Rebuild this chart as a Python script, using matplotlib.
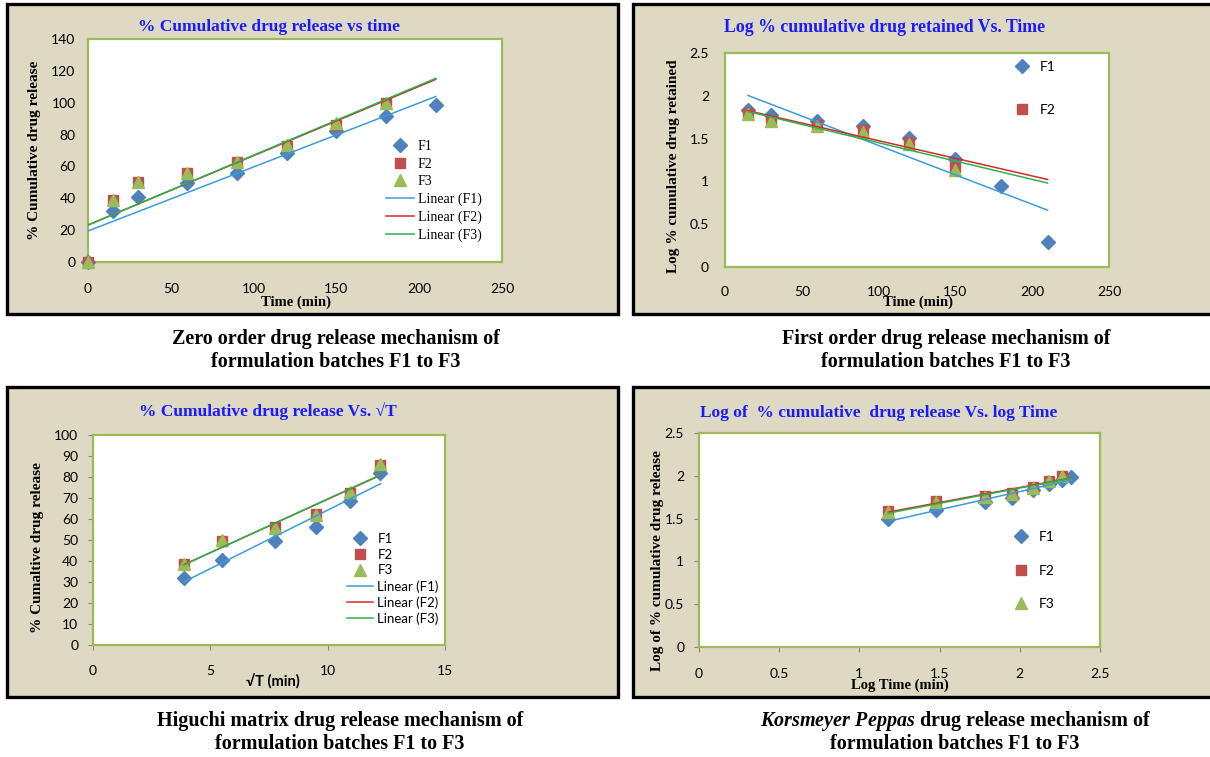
import numpy as np
import matplotlib
matplotlib.use("Agg")
import matplotlib.pyplot as plt
from matplotlib.patches import Rectangle
from matplotlib.lines import Line2D
from matplotlib.ticker import FuncFormatter

plt.rcParams['mathtext.fontset'] = 'custom'
plt.rcParams['mathtext.it'] = 'Liberation Serif:italic:bold'
plt.rcParams['mathtext.rm'] = 'Liberation Serif:bold'

##### dados #####
# ordem zero: % liberado vs tempo
time_min = [0, 15, 30, 60, 90, 120, 150, 180, 210]
zero_f1 = [0, 32, 41, 49.5, 56, 68.5, 82, 91.5, 98.5]
zero_f2 = [0, 39, 50, 56, 62.5, 73, 86, 100]
zero_f3 = [0, 39, 50, 56, 63, 73.5, 87, 100]

# primeira ordem: log % retido vs tempo
ret_time = [15, 30, 60, 90, 120, 150, 180, 210]
ret_f1 = [1.83, 1.78, 1.71, 1.65, 1.51, 1.26, 0.95, 0.29]
ret_f2 = [1.80, 1.72, 1.66, 1.60, 1.46, 1.17]
ret_f3 = [1.79, 1.70, 1.65, 1.58, 1.44, 1.13]

# Higuchi: % liberado vs raiz do tempo
sqrt_t = [3.87, 5.48, 7.75, 9.49, 10.95, 12.25]
hig_f1 = [32, 40.5, 49.5, 56, 68.5, 82]
hig_f2 = [38.5, 49.5, 56, 62.5, 72.5, 85.5]
hig_f3 = [38.5, 50, 55.5, 62, 73, 86]

# Korsmeyer-Peppas: log % liberado vs log tempo
log_t = [1.18, 1.48, 1.78, 1.95, 2.08, 2.18, 2.26, 2.32]
kp_f1 = [1.50, 1.60, 1.69, 1.74, 1.83, 1.90, 1.95, 1.99]
kp_f2 = [1.59, 1.70, 1.76, 1.80, 1.87, 1.94, 2.00]
kp_f3 = [1.58, 1.69, 1.75, 1.79, 1.86, 1.94, 2.00]

series_names = ['F1', 'F2', 'F3']

##### estilo #####
W, H = 1210, 757
BEIGE = '#DDD9C3'
GREEN_BORDER = '#9BBB59'
TITLE_BLUE = '#1a1aff'
MARK_COL = ['#4F81BD', '#C0504D', '#9BBB59']
MARK_SHAPE = ['D', 's', '^']
MARK_SIZE = [7, 7.5, 8]
LINE_COL = ['#3C9BDA', '#D42A2A', '#2BB24C']
SERIF = 'Liberation Serif'
SANS = 'Lato'

fig = plt.figure(figsize=(W / 100, H / 100), dpi=100)


def fx(x):
    return x / W


def fy(y):
    return 1 - y / H


def moldura(x0, y0, x1, y1):
    fig.patches.append(Rectangle((fx(x0), fy(y1)), (x1 - x0) / W, (y1 - y0) / H,
                                 transform=fig.transFigure, facecolor=BEIGE,
                                 edgecolor='black', lw=2.4, zorder=-5))


def eixo(x0, y0, x1, y1):
    ax = fig.add_axes([fx(x0), fy(y1), (x1 - x0) / W, (y1 - y0) / H])
    ax.set_facecolor('white')
    for s in ax.spines.values():
        s.set_color(GREEN_BORDER)
        s.set_linewidth(1.6)
    return ax


def pontos(ax, xs, ys_list):
    for i, ys in enumerate(ys_list):
        ax.plot(xs[:len(ys)], ys, linestyle='none', marker=MARK_SHAPE[i],
                ms=MARK_SIZE[i], color=MARK_COL[i], mec=MARK_COL[i], zorder=3,
                clip_on=False)


def tendencia(ax, xs, ys_list, x_range):
    for i, ys in enumerate(ys_list):
        k, b = np.polyfit(xs[:len(ys)], ys, 1)
        xx = np.array(x_range)
        ax.plot(xx, k * xx + b, color=LINE_COL[i], lw=1.1, zorder=4)


def legenda(ax, x, y, n_lin, spacing, font, size=10):
    h = []
    for i in range(3):
        h.append(Line2D([], [], linestyle='none', marker=MARK_SHAPE[i],
                        ms=MARK_SIZE[i], color=MARK_COL[i]))
    lab = list(series_names)
    for i in range(n_lin):
        h.append(Line2D([], [], color=LINE_COL[i], lw=1.1))
        lab.append('Linear (%s)' % series_names[i])
    leg = ax.legend(h, lab, loc='upper left', bbox_to_anchor=(fx(x), fy(y)),
                    bbox_transform=fig.transFigure, frameon=False,
                    borderpad=0, borderaxespad=0, handlelength=2.0,
                    handletextpad=0.3, labelspacing=spacing,
                    prop={'family': font, 'size': size})
    return leg


fmt = FuncFormatter(lambda v, p: '%g' % v)


def titulo(x, y, txt, size=12.5):
    fig.text(fx(x), fy(y), txt, ha='center', va='center', color=TITLE_BLUE,
             family=SERIF, weight='bold', fontsize=size)


def rotulo_y(x, y, txt):
    fig.text(fx(x), fy(y), txt, ha='center', va='center', rotation=90,
             family=SERIF, weight='bold', fontsize=11)


def rotulo_x(x, y, txt, font=SERIF):
    fig.text(fx(x), fy(y), txt, ha='center', va='center',
             family=font, weight='bold', fontsize=10.5)


def legenda_fig(x, y, txt):
    fig.text(fx(x), fy(y), txt, ha='center', va='center',
             family=SERIF, weight='bold', fontsize=14.5)


#####################################
#           ordem zero              #
#####################################
moldura(7, 4, 618, 314)
ax1 = eixo(88, 39, 502, 262)
pontos(ax1, time_min, [zero_f1, zero_f2, zero_f3])
tendencia(ax1, time_min, [zero_f1, zero_f2, zero_f3], [0, 210])
ax1.set_xlim(0, 250)
ax1.set_ylim(0, 140)
ax1.set_xticks(range(0, 251, 50))
ax1.set_yticks(range(0, 141, 20))
ax1.tick_params(axis='x', length=0, pad=15, labelsize=10)
ax1.tick_params(axis='y', length=0, pad=9, labelsize=10)
for t in ax1.get_xticklabels() + ax1.get_yticklabels():
    t.set_family(SANS)
legenda(ax1, 386, 140, 3, 0.33, SERIF)
titulo(269, 27, '% Cumulative drug release vs time')
rotulo_y(35, 150, '% Cumulative drug release')
rotulo_x(296, 302, 'Time (min)')

#####################################
#          primeira ordem           #
#####################################
moldura(633, 4, 1216, 314)
ax2 = eixo(725, 53, 1109, 267)
pontos(ax2, ret_time, [ret_f1, ret_f2, ret_f3])
tendencia(ax2, ret_time, [ret_f1, ret_f2, ret_f3], [15, 210])
ax2.set_xlim(0, 250)
ax2.set_ylim(0, 2.5)
ax2.set_xticks(range(0, 251, 50))
ax2.set_yticks(np.arange(0, 2.51, 0.5))
ax2.yaxis.set_major_formatter(fmt)
ax2.tick_params(axis='x', length=0, pad=14, labelsize=10)
ax2.tick_params(axis='y', length=0, pad=11.5, labelsize=10)
for t in ax2.get_xticklabels() + ax2.get_yticklabels():
    t.set_family(SANS)
# caixa da legenda corta o F3
h2 = [Line2D([], [], linestyle='none', marker=MARK_SHAPE[i], ms=MARK_SIZE[i],
             color=MARK_COL[i]) for i in range(2)]
ax2.legend(h2, series_names[:2], loc='upper left', bbox_to_anchor=(fx(1008), fy(61)),
           bbox_transform=fig.transFigure, frameon=False, borderpad=0,
           borderaxespad=0, handlelength=2.0, handletextpad=0.3,
           labelspacing=2.25, prop={'family': SANS, 'size': 10})
titulo(885, 27, 'Log % cumulative drug retained Vs. Time', size=12.8)
rotulo_y(673, 166, 'Log % cumulative drug retained')
rotulo_x(918, 302, 'Time (min)')

#####################################
#             Higuchi               #
#####################################
moldura(7, 387, 618, 697)
ax3 = eixo(93, 435, 445, 645)
pontos(ax3, sqrt_t, [hig_f1, hig_f2, hig_f3])
tendencia(ax3, sqrt_t, [hig_f1, hig_f2, hig_f3], [sqrt_t[0], sqrt_t[-1]])
ax3.set_xlim(0, 15)
ax3.set_ylim(0, 100)
ax3.set_xticks([0, 5, 10, 15])
ax3.set_yticks(range(0, 101, 10))
ax3.tick_params(axis='x', direction='out', length=3.6, color='#868686', pad=11, labelsize=10)
ax3.tick_params(axis='y', direction='out', length=3.6, color='#868686', pad=7, labelsize=10)
for t in ax3.get_xticklabels() + ax3.get_yticklabels():
    t.set_family(SANS)
legenda(ax3, 347, 533, 3, 0.28, SANS, size=9.5)
titulo(268, 411, '% Cumulative drug release Vs. \u221aT')
rotulo_y(38, 548, '% Cumaltive drug release')
rotulo_x(273, 682, '\u221aT (min)', font=SANS)

#####################################
#         Korsmeyer Peppas          #
#####################################
moldura(633, 387, 1216, 697)
ax4 = eixo(699, 433, 1100, 647)
pontos(ax4, log_t, [kp_f1, kp_f2, kp_f3])
tendencia(ax4, log_t, [kp_f1, kp_f2, kp_f3], [log_t[0], log_t[-1]])
ax4.set_xlim(0, 2.5)
ax4.set_ylim(0, 2.5)
ax4.set_xticks(np.arange(0, 2.51, 0.5))
ax4.set_yticks(np.arange(0, 2.51, 0.5))
ax4.xaxis.set_major_formatter(fmt)
ax4.yaxis.set_major_formatter(fmt)
ax4.tick_params(axis='x', direction='out', length=3.6, color='#868686', pad=11.5, labelsize=10)
ax4.tick_params(axis='y', direction='out', length=3.6, color='#868686', pad=7, labelsize=10)
for t in ax4.get_xticklabels() + ax4.get_yticklabels():
    t.set_family(SANS)
legenda(ax4, 1007, 531, 0, 1.55, SANS)
titulo(879, 413, 'Log of  % cumulative  drug release Vs. log Time')
rotulo_y(658, 561, 'Log of % cumulative drug release')
rotulo_x(900, 685, 'Log Time (min)')

##### legendas das figuras #####
legenda_fig(336, 339, 'Zero order drug release mechanism of')
legenda_fig(336, 362, 'formulation batches F1 to F3')
legenda_fig(946, 339, 'First order drug release mechanism of')
legenda_fig(946, 362, 'formulation batches F1 to F3')
legenda_fig(340, 721, 'Higuchi matrix drug release mechanism of')
legenda_fig(340, 744, 'formulation batches F1 to F3')
legenda_fig(955, 721, r'$\mathit{Korsmeyer\ Peppas}$ drug release mechanism of')
legenda_fig(955, 744, 'formulation batches F1 to F3')

fig.savefig('out.png', dpi=100, facecolor='white')
